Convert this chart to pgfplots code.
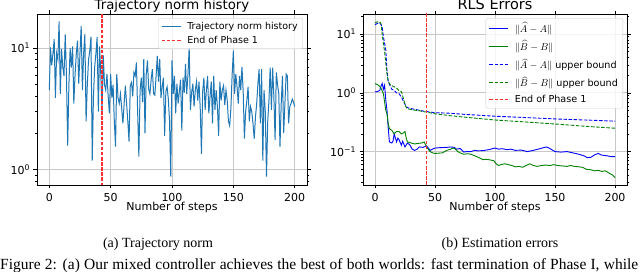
\documentclass[border=0pt]{standalone}
\usepackage{pgfplots}
\pgfplotsset{compat=1.18}
\usepackage{pgfplotstable}
\usepackage{fontspec}
\setmainfont{DejaVu Sans}
\newfontfamily\capfont{Liberation Serif}
\definecolor{tabblue}{HTML}{1F77B4}
\definecolor{mplgreen}{HTML}{008000}
\definecolor{mplblue}{HTML}{0000FF}
\definecolor{gridgray}{HTML}{C8C8C8}
\definecolor{legframe}{HTML}{CCCCCC}
\definecolor{phasered}{HTML}{FF3030}

\pgfplotstableread{
step val
0 4.5
1 10.1
2 7.2
3 9
4 11.8
5 3.9
6 9
7 8
8 16.5
9 4.2
10 9.8
11 7
12 5.9
13 12.9
14 6
15 1.58
16 5
17 10
18 6.9
19 10.3
20 3.5
21 6
22 8.9
23 11.5
24 5.1
25 9
26 15.2
27 4.5
28 9
29 13
30 2.5
31 5
32 8
33 9.5
34 12.3
35 1.19
36 4
37 7
38 9
39 12.3
40 3.0
41 10.3
42 6
43 2.9
44 8.7
45 5
46 4.5
47 6.1
48 4
49 2.9
50 6.1
51 3.9
52 5
53 2.5
54 1.55
55 6.1
56 3.9
57 3.5
58 4.2
59 3.2
60 2.4
61 3.5
62 4.9
63 3.5
64 2.5
65 1.7
66 4.9
67 5.2
68 4
69 6.3
70 5.9
71 7.6
72 3
73 1.28
74 4.5
75 5.7
76 3.6
77 8.1
78 2.0
79 6
80 7.9
81 4.6
82 4.2
83 5.5
84 6.7
85 4.2
86 4.1
87 5.8
88 8.6
89 5.3
90 8.1
91 3.9
92 4.8
93 5.7
94 1.9
95 4.4
96 4.8
97 3.8
98 2.5
99 0.88
100 7.9
101 4.2
102 5.9
103 2.9
104 5.1
105 3.5
106 4.4
107 5.5
108 2.1
109 5.7
110 4.3
111 7.4
112 4.2
113 6
114 10.1
115 3.1
116 4.3
117 5.1
118 3.3
119 4.5
120 5.3
121 3.7
122 5.3
123 3.2
124 1.35
125 4.4
126 5.7
127 3.1
128 4.5
129 5.9
130 2.9
131 4
132 5.3
133 2.4
134 5.9
135 3.1
136 4.5
137 3.3
138 1.9
139 5.3
140 3.7
141 4.5
142 4.9
143 3.4
144 4.5
145 3.7
146 2.5
147 2.3
148 3.2
149 6
150 9.5
151 4.2
152 6.1
153 4.8
154 3.5
155 5.9
156 4.5
157 7.0
158 4.4
159 1.8
160 3
161 3.7
162 4.8
163 2.5
164 3.3
165 3
166 2.4
167 1.8
168 2.7
169 3.5
170 5.1
171 6.7
172 2.4
173 6.7
174 1.19
175 4.5
176 3
177 0.88
178 2.5
179 3.7
180 6.9
181 3.1
182 6.9
183 4
184 1.75
185 6.3
186 5
187 4.2
188 1.55
189 3.5
190 5.9
191 2.0
192 3.5
193 6.1
194 5.9
195 2.4
196 3.3
197 3.5
198 3.8
199 3.6
200 3.3
}\traj

\pgfplotsset{mplstyle/.style={
  scale only axis, xmin=-10, xmax=210,
  xtick={0,50,100,150,200},
  tick align=outside, major tick length=3.5pt, minor tick length=2pt,
  tick style={black, line width=0.6pt},
  axis line style={line width=0.8pt},
  grid=major, major grid style={gridgray, line width=0.7pt},
  ticklabel style={font=\fontsize{11}{13}\selectfont},
  xticklabel style={yshift=-1.5pt},
  /pgf/number format/assume math mode=true,
  xlabel={Number of steps},
  xlabel style={font=\fontsize{11}{13}\selectfont, at={(0.5,0)}, anchor=base, yshift=-25.7pt},
  legend style={font=\fontsize{9.5}{11}\selectfont, draw=legframe, rounded corners=2pt,
    fill=white, fill opacity=0.8, draw opacity=1, text opacity=1, at={(0.985,0.975)}, anchor=north east,
    inner xsep=3pt, inner ysep=2pt, row sep=1pt},
  legend cell align=left,
  legend image code/.code={\draw[##1] (0pt,0pt) -- (19pt,0pt); \path (23pt,0pt);},
}}

\begin{document}
\begin{tikzpicture}[x=1pt,y=1pt]
\useasboundingbox (0,0) rectangle (640,272);
\clip (0,0) rectangle (640,272);

\begin{semilogyaxis}[mplstyle, at={(37pt,87pt)}, anchor=south west, width=270pt, height=171pt,
  ymin=0.75, ymax=19, ytick={1,10}, yticklabels={10\textsuperscript{0},10\textsuperscript{1}},
  minor ytick={0.8,0.9,2,3,4,5,6,7,8,9}]
\addplot[color=tabblue, line width=1pt] table[x=step, y=val] {\traj};
\addlegendentry{Trajectory norm history}
\addplot[color=phasered, line width=1.1pt, dash pattern=on 3.5pt off 1.6pt] coordinates {(43,0.5) (43,30)};
\addlegendentry{End of Phase 1}
\end{semilogyaxis}

\begin{semilogyaxis}[mplstyle, at={(363pt,87pt)}, anchor=south west, width=264pt, height=171pt,
  ymin=0.027, ymax=22, ytick={0.1,1,10},
  yticklabels={10\textsuperscript{−1},10\textsuperscript{0},10\textsuperscript{1}},
  minor ytick={0.03,0.04,0.05,0.06,0.07,0.08,0.09,0.2,0.3,0.4,0.5,0.6,0.7,0.8,0.9,2,3,4,5,6,7,8,9,20},
  legend style={row sep=3pt, font=\fontsize{9.6}{11}\selectfont}]
\addplot[forget plot, draw=mplblue, line width=0.9pt] coordinates {
(0,1.04) (2,1.05) (4,1.1) (5,1.3) (6,1.44) (7,1.15) (8,1.35) (9,0.75) (10,0.5) (11,0.26) (12,0.146) (14,0.14) (15,0.15) (16,0.2) (17,0.17) (18,0.146) (19,0.17) (20,0.16) (22,0.128) (23,0.15) (25,0.12) (27,0.14) (29,0.13) (31,0.11) (33,0.105) (35,0.11) (37,0.12) (40,0.118) (43,0.125) (46,0.105) (48,0.11) (50,0.115) (55,0.117) (60,0.118) (63,0.12) (66,0.118) (68,0.11) (71,0.113) (74,0.098) (76,0.1) (80,0.1) (83,0.105) (86,0.103) (90,0.104) (95,0.108) (100,0.115) (103,0.11) (106,0.112) (110,0.108) (113,0.11) (117,0.105) (122,0.106) (127,0.1) (132,0.105) (136,0.11) (140,0.116) (143,0.12) (146,0.112) (150,0.1) (155,0.098) (160,0.1) (165,0.095) (170,0.09) (174,0.085) (177,0.079) (180,0.08) (183,0.088) (186,0.093) (189,0.087) (193,0.085) (197,0.082) (200,0.082)};
\addplot[forget plot, draw=mplgreen, line width=0.9pt] coordinates {
(0,1.44) (3,1.35) (5,1.2) (7,0.97) (8,0.7) (9,0.5) (10,0.44) (11,0.3) (12,0.245) (14,0.23) (16,0.2) (18,0.22) (20,0.22) (22,0.2) (24,0.21) (25,0.22) (26,0.17) (27,0.146) (30,0.14) (33,0.135) (36,0.138) (39,0.14) (41,0.146) (43,0.12) (45,0.105) (46,0.1) (48,0.095) (50,0.093) (53,0.094) (56,0.095) (58,0.1) (60,0.105) (63,0.11) (65,0.115) (67,0.11) (69,0.1) (71,0.095) (74,0.09) (77,0.092) (80,0.09) (83,0.085) (86,0.08) (90,0.073) (93,0.074) (96,0.072) (99,0.07) (101,0.062) (103,0.058) (105,0.06) (108,0.062) (111,0.06) (114,0.058) (117,0.055) (120,0.056) (123,0.054) (126,0.058) (129,0.062) (132,0.058) (135,0.056) (139,0.058) (142,0.059) (146,0.058) (149,0.06) (152,0.058) (156,0.057) (160,0.056) (163,0.058) (166,0.056) (170,0.055) (173,0.054) (176,0.05) (180,0.049) (183,0.047) (186,0.048) (189,0.046) (192,0.047) (195,0.043) (198,0.04) (200,0.036)};
\addplot[forget plot, draw=mplblue, line width=0.9pt, dash pattern=on 3.5pt off 1.6pt] coordinates {
(0,14.5) (2,15.2) (4,15.5) (5,14.5) (6,13) (7,9) (8,7) (9,5.3) (10,2.4) (11,1.6) (12,1.4) (14,1.15) (16,1.1) (18,1.0) (20,0.97) (22,0.85) (24,0.7) (26,0.58) (28,0.55) (32,0.53) (36,0.51) (40,0.49) (43,0.48) (50,0.46) (62,0.45) (75,0.43) (100,0.40) (125,0.38) (137,0.37) (150,0.36) (175,0.345) (200,0.33)};
\addplot[forget plot, draw=mplgreen, line width=0.9pt, dash pattern=on 3.5pt off 1.6pt] coordinates {
(0,15.5) (2,16.2) (4,16.2) (5,15) (6,10) (7,6.9) (8,5) (9,3.2) (10,2.1) (11,1.56) (13,1.35) (16,1.27) (18,1.2) (20,1.1) (22,1.05) (23,0.9) (24,0.75) (26,0.56) (28,0.53) (32,0.51) (36,0.5) (40,0.48) (43,0.47) (50,0.44) (62,0.41) (75,0.385) (100,0.345) (125,0.32) (150,0.295) (175,0.27) (200,0.25)};
\addplot[forget plot, draw=phasered, line width=1.1pt, dash pattern=on 3.5pt off 1.6pt] coordinates {(43,0.01) (43,30)};
\addlegendimage{draw=mplblue, line width=0.9pt}
\addlegendentry{$\|\widehat{A}-A\|$}
\addlegendimage{draw=mplgreen, line width=0.9pt}
\addlegendentry{$\|\widehat{B}-B\|$}
\addlegendimage{draw=mplblue, line width=0.9pt, dash pattern=on 3.5pt off 1.6pt}
\addlegendentry{$\|\widehat{A}-A\|$ upper bound}
\addlegendimage{draw=mplgreen, line width=0.9pt, dash pattern=on 3.5pt off 1.6pt}
\addlegendentry{$\|\widehat{B}-B\|$ upper bound}
\addlegendimage{draw=phasered, line width=1.1pt, dash pattern=on 3.5pt off 1.6pt}
\addlegendentry{End of Phase 1}
\end{semilogyaxis}

\node[anchor=base, font=\fontsize{13.3}{15}\selectfont] at (172,262.5) {Trajectory norm history};
\node[anchor=base, font=\fontsize{14.5}{16}\selectfont] at (495,262.5) {RLS Errors};
\node[anchor=base, font=\capfont\fontsize{14}{16}\selectfont] at (158,24) {(a) Trajectory norm};
\node[anchor=base, font=\capfont\fontsize{14}{16}\selectfont] at (500,24) {(b) Estimation errors};
\node[anchor=base west, inner sep=0pt, font=\capfont\fontsize{15.5}{18}\selectfont] at (0,2) {\makebox[638pt][s]{Figure 2: (a) Our mixed controller achieves the best of both worlds: fast termination of Phase I, while}};
\end{tikzpicture}
\end{document}
